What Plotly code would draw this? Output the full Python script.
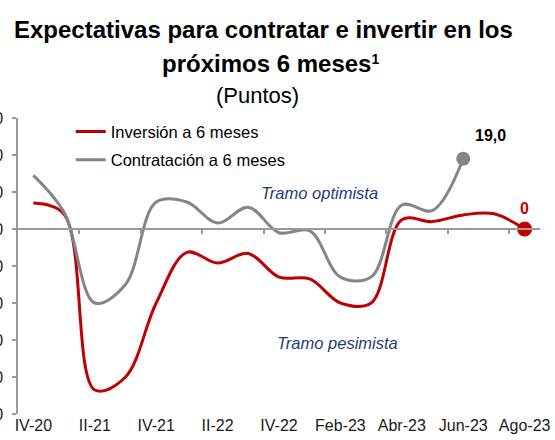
import plotly.graph_objects as go

# ---- data ----
categories = ["IV-20", "I-21", "II-21", "III-21", "IV-21", "I-22", "II-22", "III-22", "IV-22",
              "Ene-23", "Feb-23", "Mar-23", "Abr-23", "May-23", "Jun-23", "Jul-23", "Ago-23"]
tick_labels = ["IV-20", "II-21", "IV-21", "II-22", "IV-22", "Feb-23", "Abr-23", "Jun-23", "Ago-23"]
inversion = [7.0, 4.0, -43.5, -40.0, -20.0, -6.3, -9.2, -6.6, -13.0, -13.5, -20.0, -20.0,
             2.5, 2.0, 3.8, 4.1, 0.0]
contratacion = [14.5, 4.5, -20.0, -15.0, 7.3, 7.3, 1.6, 5.9, -1.0, -0.5, -13.0, -13.0,
                6.5, 5.0, 19.0, None, None]
y_ticks = [30, 20, 10, 0, -10, -20, -30, -40, -50]

RED = "#C00000"
GRAY = "#858585"
NAVY = "#1F3A7A"
FONT = "Liberation Sans, Arial, sans-serif"

last_c = max(i for i, v in enumerate(contratacion) if v is not None)

fig = go.Figure()
fig.add_trace(go.Scatter(x=categories, y=inversion, name="Inversión a 6 meses",
                         mode="lines", line=dict(color=RED, width=3, shape="spline", smoothing=1),
                         legendgroup="a"))
fig.add_trace(go.Scatter(x=categories, y=contratacion, name="Contratación a 6 meses",
                         mode="lines", line=dict(color=GRAY, width=3, shape="spline", smoothing=1),
                         legendgroup="b"))
fig.add_trace(go.Scatter(x=[categories[last_c]], y=[contratacion[last_c]], mode="markers",
                         marker=dict(color=GRAY, size=14), showlegend=False, cliponaxis=False))
fig.add_trace(go.Scatter(x=[categories[-1]], y=[inversion[-1]], mode="markers",
                         marker=dict(color=RED, size=15), showlegend=False, cliponaxis=False))

n = len(categories)
fig.update_layout(
    width=555, height=440,
    margin=dict(l=18, r=15, t=118, b=26),
    paper_bgcolor="white", plot_bgcolor="white",
    font=dict(family=FONT, color="#000000", size=16),
    showlegend=True,
    legend=dict(x=0.101, y=1.013, xanchor="left", yanchor="top", bgcolor="rgba(0,0,0,0)",
                font=dict(size=16.5), traceorder="grouped", tracegroupgap=4,
                itemwidth=30),
    xaxis=dict(type="category", categoryorder="array", categoryarray=categories,
               range=[-0.5, n - 0.5], tickmode="array", tickvals=tick_labels, ticktext=tick_labels,
               showline=False, ticks="", showgrid=False, zeroline=False,
               tickfont=dict(size=16, color="#1a1a1a"), automargin=False),
    xaxis2=dict(overlaying="x", type="linear", range=[-0.5, n - 0.5], anchor="free",
                position=(0 - y_ticks[-1]) / (y_ticks[0] - y_ticks[-1]),
                showline=True, linecolor="#9a9a9a", linewidth=1.5,
                tickmode="array", tickvals=[i + 1.5 for i in range(0, n - 1, 2)],
                ticks="outside", ticklen=4, tickcolor="#9a9a9a", tickwidth=1.5,
                showticklabels=False, showgrid=False, zeroline=False, automargin=False),
    yaxis=dict(range=[y_ticks[-1], y_ticks[0]], tickmode="array", tickvals=y_ticks,
               ticktext=[str(v) for v in y_ticks],
               showline=True, linecolor="#9a9a9a", linewidth=1.5,
               ticks="outside", ticklen=4, tickcolor="#9a9a9a", tickwidth=1.5,
               showgrid=False, zeroline=False, ticklabelstandoff=6,
               tickfont=dict(size=16, color="#1a1a1a"), automargin=False),
)

# dummy trace to activate xaxis2
fig.add_trace(go.Scatter(x=[None], y=[None], xaxis="x2", showlegend=False, hoverinfo="skip"))

def px_to_paper_y(py):
    return (414 - py) / 296

def px_to_paper_x(px):
    return (px - 18) / 522

fig.add_annotation(text="<b>Expectativas para contratar e invertir en los</b>", xref="paper", yref="paper",
                   x=px_to_paper_x(263), y=px_to_paper_y(30), showarrow=False,
                   font=dict(size=24, color="#000000"), xanchor="center", yanchor="middle")
fig.add_annotation(text="<b>próximos 6 meses<span style='font-size:20px'><sup>1</sup></span></b>",
                   xref="paper", yref="paper",
                   x=px_to_paper_x(270), y=px_to_paper_y(64), showarrow=False,
                   font=dict(size=24, color="#000000"), xanchor="center", yanchor="middle")
fig.add_annotation(text="(Puntos)", xref="paper", yref="paper",
                   x=px_to_paper_x(257), y=px_to_paper_y(95), showarrow=False,
                   font=dict(size=22, color="#000000"), xanchor="center", yanchor="middle")

fig.add_annotation(text="<i>Tramo optimista</i>", xref="x2", yref="y", x=9.33, y=9.7, showarrow=False,
                   font=dict(size=16.5, color=NAVY))
fig.add_annotation(text="<i>Tramo pesimista</i>", xref="x2", yref="y", x=9.92, y=-30.8, showarrow=False,
                   font=dict(size=16.5, color=NAVY))

fig.add_annotation(text="<b>" + f"{contratacion[last_c]:.1f}".replace(".", ",") + "</b>",
                   xref="x2", yref="y", x=last_c, y=contratacion[last_c], showarrow=False,
                   xshift=27, yshift=23, font=dict(size=16, color="#000000"))
fig.add_annotation(text="<b>" + f"{inversion[-1]:.0f}" + "</b>",
                   xref="x2", yref="y", x=n - 1, y=inversion[-1], showarrow=False,
                   xshift=0, yshift=21, font=dict(size=16, color=RED))

# remove the page's default 8px body margin so the 555x440 figure fills the window
fig.write_html("out.html", config={"displayModeBar": False},
               post_script="document.body.style.margin='0';")
